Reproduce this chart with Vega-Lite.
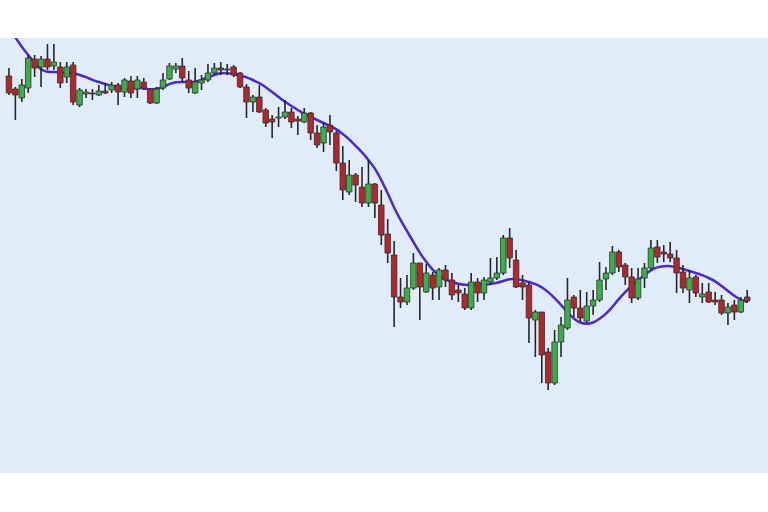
{
  "$schema": "https://vega.github.io/schema/vega-lite/v6.json",
  "width": 768,
  "height": 435,
  "autosize": {"type": "none"},
  "padding": {"top": 38, "left": 0, "right": 0, "bottom": 39},
  "background": "#ffffff",
  "view": {"fill": "#e1ecfa", "stroke": null},
  "data": {"values": [
    {"i":1,"o":397,"h":405,"l":378,"c":380,"ma":443},
    {"i":2,"o":384,"h":386,"l":353,"c":378,"ma":436},
    {"i":3,"o":375,"h":394,"l":371,"c":388,"ma":426},
    {"i":4,"o":385,"h":418,"l":380,"c":415,"ma":418},
    {"i":5,"o":414,"h":418,"l":396,"c":405,"ma":410},
    {"i":6,"o":406,"h":417,"l":386,"c":414,"ma":403},
    {"i":7,"o":414,"h":429,"l":403,"c":406,"ma":401},
    {"i":8,"o":407,"h":429,"l":403,"c":411,"ma":401},
    {"i":9,"o":406,"h":411,"l":385,"c":390,"ma":401},
    {"i":10,"o":396,"h":411,"l":390,"c":406,"ma":400},
    {"i":11,"o":408,"h":411,"l":368,"c":371,"ma":400},
    {"i":12,"o":368,"h":385,"l":366,"c":383,"ma":398},
    {"i":13,"o":379,"h":384,"l":375,"c":381,"ma":396},
    {"i":14,"o":380,"h":384,"l":373,"c":379,"ma":393},
    {"i":15,"o":378,"h":388,"l":377,"c":382,"ma":391},
    {"i":16,"o":382,"h":390,"l":379,"c":380,"ma":389},
    {"i":17,"o":383,"h":391,"l":380,"c":388,"ma":387},
    {"i":18,"o":388,"h":390,"l":368,"c":381,"ma":385},
    {"i":19,"o":381,"h":395,"l":376,"c":393,"ma":385},
    {"i":20,"o":392,"h":397,"l":375,"c":380,"ma":384},
    {"i":21,"o":384,"h":397,"l":375,"c":393,"ma":385},
    {"i":22,"o":391,"h":395,"l":383,"c":385,"ma":385},
    {"i":23,"o":384,"h":385,"l":369,"c":370,"ma":383},
    {"i":24,"o":370,"h":386,"l":369,"c":384,"ma":384},
    {"i":25,"o":385,"h":400,"l":383,"c":393,"ma":386},
    {"i":26,"o":394,"h":410,"l":393,"c":407,"ma":389},
    {"i":27,"o":404,"h":410,"l":400,"c":407,"ma":391},
    {"i":28,"o":407,"h":415,"l":391,"c":395,"ma":391},
    {"i":29,"o":393,"h":402,"l":380,"c":385,"ma":391},
    {"i":30,"o":380,"h":405,"l":379,"c":391,"ma":391},
    {"i":31,"o":390,"h":398,"l":383,"c":393,"ma":393},
    {"i":32,"o":393,"h":409,"l":391,"c":400,"ma":396},
    {"i":33,"o":400,"h":410,"l":398,"c":405,"ma":398},
    {"i":34,"o":405,"h":411,"l":398,"c":403,"ma":400},
    {"i":35,"o":403,"h":409,"l":398,"c":404,"ma":400},
    {"i":36,"o":406,"h":408,"l":396,"c":398,"ma":399},
    {"i":37,"o":400,"h":401,"l":385,"c":386,"ma":397},
    {"i":38,"o":386,"h":389,"l":355,"c":371,"ma":396},
    {"i":39,"o":371,"h":378,"l":361,"c":376,"ma":393},
    {"i":40,"o":376,"h":388,"l":360,"c":361,"ma":390},
    {"i":41,"o":363,"h":365,"l":346,"c":350,"ma":386},
    {"i":42,"o":354,"h":358,"l":335,"c":351,"ma":381},
    {"i":43,"o":355,"h":366,"l":346,"c":356,"ma":376},
    {"i":44,"o":356,"h":373,"l":354,"c":361,"ma":371},
    {"i":45,"o":361,"h":365,"l":345,"c":351,"ma":367},
    {"i":46,"o":354,"h":357,"l":338,"c":352,"ma":363},
    {"i":47,"o":351,"h":365,"l":350,"c":360,"ma":359},
    {"i":48,"o":360,"h":361,"l":333,"c":340,"ma":356},
    {"i":49,"o":340,"h":348,"l":325,"c":328,"ma":353},
    {"i":50,"o":330,"h":350,"l":321,"c":346,"ma":350},
    {"i":51,"o":348,"h":358,"l":328,"c":341,"ma":347},
    {"i":52,"o":340,"h":342,"l":302,"c":310,"ma":344},
    {"i":53,"o":310,"h":327,"l":273,"c":283,"ma":339},
    {"i":54,"o":281,"h":313,"l":278,"c":298,"ma":334},
    {"i":55,"o":298,"h":300,"l":271,"c":288,"ma":327},
    {"i":56,"o":286,"h":306,"l":266,"c":270,"ma":321},
    {"i":57,"o":270,"h":313,"l":266,"c":289,"ma":313},
    {"i":58,"o":289,"h":290,"l":255,"c":270,"ma":305},
    {"i":59,"o":268,"h":283,"l":228,"c":238,"ma":293},
    {"i":60,"o":239,"h":254,"l":210,"c":220,"ma":280},
    {"i":61,"o":218,"h":232,"l":146,"c":176,"ma":265},
    {"i":62,"o":176,"h":195,"l":165,"c":171,"ma":253},
    {"i":63,"o":171,"h":198,"l":168,"c":185,"ma":242},
    {"i":64,"o":185,"h":220,"l":183,"c":210,"ma":231},
    {"i":65,"o":210,"h":210,"l":153,"c":186,"ma":220},
    {"i":66,"o":181,"h":209,"l":180,"c":200,"ma":211},
    {"i":67,"o":198,"h":201,"l":173,"c":185,"ma":203},
    {"i":68,"o":186,"h":205,"l":173,"c":203,"ma":197},
    {"i":69,"o":203,"h":208,"l":186,"c":193,"ma":193},
    {"i":70,"o":193,"h":200,"l":173,"c":178,"ma":191},
    {"i":71,"o":183,"h":188,"l":171,"c":180,"ma":189},
    {"i":72,"o":179,"h":185,"l":163,"c":165,"ma":188},
    {"i":73,"o":165,"h":200,"l":163,"c":191,"ma":188},
    {"i":74,"o":191,"h":195,"l":171,"c":180,"ma":188},
    {"i":75,"o":180,"h":196,"l":173,"c":193,"ma":188},
    {"i":76,"o":191,"h":215,"l":188,"c":195,"ma":189},
    {"i":77,"o":195,"h":216,"l":193,"c":200,"ma":190},
    {"i":78,"o":200,"h":238,"l":198,"c":235,"ma":192},
    {"i":79,"o":235,"h":245,"l":205,"c":215,"ma":194},
    {"i":80,"o":213,"h":223,"l":185,"c":186,"ma":194},
    {"i":81,"o":190,"h":198,"l":173,"c":186,"ma":193},
    {"i":82,"o":188,"h":191,"l":130,"c":155,"ma":191},
    {"i":83,"o":153,"h":163,"l":116,"c":161,"ma":189},
    {"i":84,"o":161,"h":161,"l":90,"c":118,"ma":186},
    {"i":85,"o":121,"h":125,"l":83,"c":90,"ma":181},
    {"i":86,"o":90,"h":143,"l":88,"c":131,"ma":175},
    {"i":87,"o":131,"h":156,"l":116,"c":148,"ma":168},
    {"i":88,"o":145,"h":195,"l":143,"c":173,"ma":161},
    {"i":89,"o":176,"h":178,"l":156,"c":165,"ma":154},
    {"i":90,"o":165,"h":183,"l":151,"c":155,"ma":150},
    {"i":91,"o":152,"h":181,"l":150,"c":167,"ma":149},
    {"i":92,"o":167,"h":183,"l":158,"c":173,"ma":150},
    {"i":93,"o":173,"h":211,"l":171,"c":193,"ma":154},
    {"i":94,"o":194,"h":206,"l":183,"c":200,"ma":159},
    {"i":95,"o":200,"h":227,"l":198,"c":221,"ma":166},
    {"i":96,"o":221,"h":223,"l":201,"c":206,"ma":174},
    {"i":97,"o":208,"h":210,"l":188,"c":196,"ma":181},
    {"i":98,"o":196,"h":205,"l":170,"c":175,"ma":187},
    {"i":99,"o":175,"h":205,"l":173,"c":194,"ma":193},
    {"i":100,"o":195,"h":210,"l":185,"c":205,"ma":198},
    {"i":101,"o":205,"h":233,"l":203,"c":225,"ma":203},
    {"i":102,"o":226,"h":233,"l":210,"c":216,"ma":206},
    {"i":103,"o":221,"h":228,"l":211,"c":219,"ma":207},
    {"i":104,"o":219,"h":231,"l":211,"c":215,"ma":207},
    {"i":105,"o":215,"h":223,"l":180,"c":200,"ma":206},
    {"i":106,"o":201,"h":208,"l":180,"c":185,"ma":204},
    {"i":107,"o":183,"h":203,"l":170,"c":195,"ma":202},
    {"i":108,"o":196,"h":198,"l":176,"c":180,"ma":200},
    {"i":109,"o":176,"h":190,"l":170,"c":179,"ma":198},
    {"i":110,"o":181,"h":190,"l":170,"c":171,"ma":195},
    {"i":111,"o":173,"h":181,"l":168,"c":171,"ma":192},
    {"i":112,"o":173,"h":178,"l":158,"c":160,"ma":187},
    {"i":113,"o":160,"h":170,"l":148,"c":166,"ma":182},
    {"i":114,"o":168,"h":173,"l":153,"c":161,"ma":177},
    {"i":115,"o":161,"h":176,"l":160,"c":173,"ma":173},
    {"i":116,"o":176,"h":183,"l":170,"c":172,"ma":171}
  ]},
  "encoding": {
    "x": {"field": "i", "type": "quantitative", "scale": {"domain": [0.385, 118.46], "nice": false, "zero": false}, "axis": null}
  },
  "layer": [
    {
      "mark": {"type": "line", "color": "#4d28cc", "strokeWidth": 2.5, "interpolate": "basis", "clip": true},
      "encoding": {
        "y": {"field": "ma", "type": "quantitative", "scale": {"domain": [0, 435], "nice": false, "zero": false}, "axis": null}
      }
    },
    {
      "mark": {"type": "rule", "color": "#262626", "strokeWidth": 1.6},
      "encoding": {
        "y": {"field": "l", "type": "quantitative"},
        "y2": {"field": "h"}
      }
    },
    {
      "mark": {"type": "bar", "size": 5.5, "stroke": "#303030", "strokeWidth": 0.8},
      "encoding": {
        "y": {"field": "o", "type": "quantitative"},
        "y2": {"field": "c"},
        "fill": {"condition": {"test": "datum.c >= datum.o", "value": "#3cae46"}, "value": "#b3272b"}
      }
    }
  ]
}
